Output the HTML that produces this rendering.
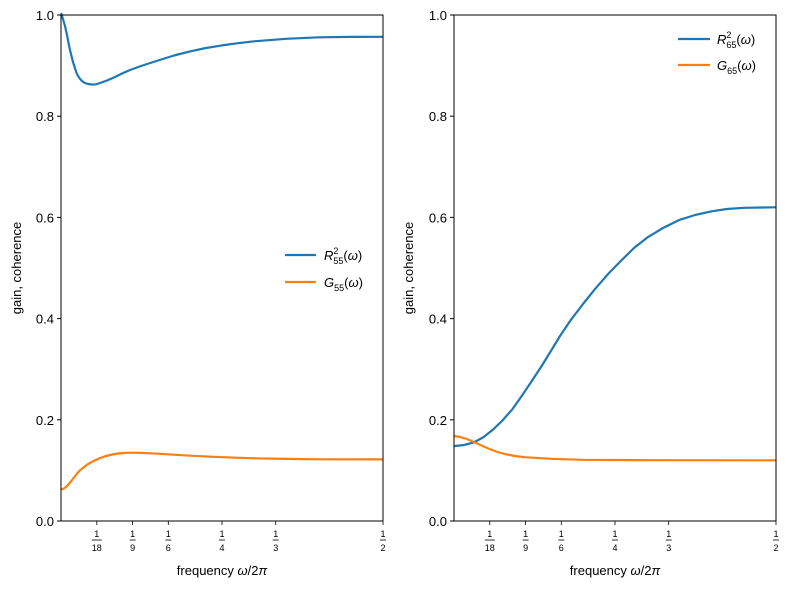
<!DOCTYPE html>
<html><head><meta charset="utf-8"><style>body{margin:0;background:#fff}svg{display:block;font-family:"Liberation Sans","DejaVu Sans",sans-serif}</style></head><body>
<svg width="790" height="589" viewBox="0 0 790 589" xmlns="http://www.w3.org/2000/svg">
<defs>
<g id="yt" font-size="13" fill="#000" text-anchor="end">
<line x1="-4" y1="521" x2="0" y2="521" stroke="#000"/><text x="-7" y="526">0.0</text>
<line x1="-4" y1="419.8" x2="0" y2="419.8" stroke="#000"/><text x="-7" y="424.8">0.2</text>
<line x1="-4" y1="318.6" x2="0" y2="318.6" stroke="#000"/><text x="-7" y="323.6">0.4</text>
<line x1="-4" y1="217.4" x2="0" y2="217.4" stroke="#000"/><text x="-7" y="222.4">0.6</text>
<line x1="-4" y1="116.2" x2="0" y2="116.2" stroke="#000"/><text x="-7" y="121.2">0.8</text>
<line x1="-4" y1="15" x2="0" y2="15" stroke="#000"/><text x="-7" y="20">1.0</text>
</g>
<g id="xt" font-size="9" fill="#000" text-anchor="middle" stroke-width="0.8">
<g transform="translate(35.8,0)"><line y1="521" y2="525" stroke="#000"/><text y="537">1</text><line x1="-5" x2="5" y1="540" y2="540" stroke="#000"/><text y="551">18</text></g>
<g transform="translate(71.6,0)"><line y1="521" y2="525" stroke="#000"/><text y="537">1</text><line x1="-3" x2="3" y1="540" y2="540" stroke="#000"/><text y="551">9</text></g>
<g transform="translate(107.3,0)"><line y1="521" y2="525" stroke="#000"/><text y="537">1</text><line x1="-3" x2="3" y1="540" y2="540" stroke="#000"/><text y="551">6</text></g>
<g transform="translate(161,0)"><line y1="521" y2="525" stroke="#000"/><text y="537">1</text><line x1="-3" x2="3" y1="540" y2="540" stroke="#000"/><text y="551">4</text></g>
<g transform="translate(214.7,0)"><line y1="521" y2="525" stroke="#000"/><text y="537">1</text><line x1="-3" x2="3" y1="540" y2="540" stroke="#000"/><text y="551">3</text></g>
<g transform="translate(322,0)"><line y1="521" y2="525" stroke="#000"/><text y="537">1</text><line x1="-3" x2="3" y1="540" y2="540" stroke="#000"/><text y="551">2</text></g>
</g>
</defs>
<!-- left -->
<g transform="translate(61,0)"><use href="#yt"/><use href="#xt"/></g>
<polyline fill="none" stroke="#1f77b4" stroke-width="2.2" stroke-linejoin="round" points="61,13 63,19 65,26 67,35 68.5,43 70,50 71.5,56 73,62 75,68.5 77,74 79,77.5 81,80 83,81.8 85,83 88,84 92,84.5 96,84.3 100,83 107,80.5 115,77 122,73.5 130,70 141,66 158,60.5 174,55.5 190,51.4 206,48 222,45.4 238,43.2 254,41.3 286,38.8 319,37.3 351,36.9 383,36.8"/>
<polyline fill="none" stroke="#ff7f0e" stroke-width="2.2" stroke-linejoin="round" points="61,489.6 64,488.5 67,486 70.5,482 74,477.5 77,473.5 80,470.4 84,467 88,464 93,461.3 100,458 106,456 112,454.5 118,453.5 125,452.9 132,452.7 140,452.9 158,453.7 190,455.7 222,457.2 254,458.3 286,458.9 319,459.3 383,459.4"/>
<rect x="61" y="15" width="322" height="506" fill="none" stroke="#000" stroke-width="1"/>
<text x="222" y="575" font-size="13" text-anchor="middle">frequency <tspan font-style="italic">ω</tspan>/2<tspan font-style="italic">π</tspan></text>
<text transform="translate(21,268) rotate(-90)" font-size="13" text-anchor="middle">gain, coherence</text>
<line x1="285" y1="255" x2="316" y2="255" stroke="#1f77b4" stroke-width="2.2"/>
<text x="324" y="260" font-size="13"><tspan font-style="italic">R</tspan><tspan font-size="9" dy="-6">2</tspan><tspan font-size="9" dx="-5" dy="10">55</tspan><tspan dy="-4">(<tspan font-style="italic">ω</tspan>)</tspan></text>
<line x1="285" y1="282" x2="316" y2="282" stroke="#ff7f0e" stroke-width="2.2"/>
<text x="324" y="287" font-size="13"><tspan font-style="italic">G</tspan><tspan font-size="9" dy="4">55</tspan><tspan dy="-4">(<tspan font-style="italic">ω</tspan>)</tspan></text>
<!-- right -->
<g transform="translate(454,0)"><use href="#yt"/><use href="#xt"/></g>
<polyline fill="none" stroke="#1f77b4" stroke-width="2.2" stroke-linejoin="round" points="454,446.1 464,445 473.3,442.6 483,437.5 492.6,429.9 502,421 512,409.7 521,397 531.3,381.8 541,367 550.6,351.5 560,336 570,321.1 583,304 595.7,288.2 609,273 621.4,260.4 634,248 647.2,237.6 663,228 679.4,219.9 695,215 711.6,211.3 727,209 743.8,207.8 776,207.3"/>
<polyline fill="none" stroke="#ff7f0e" stroke-width="2.2" stroke-linejoin="round" points="454,436 460,437 466.9,439 476,443 486.2,447.6 496,451.5 505.5,454.2 515,456 524.8,457.2 550.6,458.8 583,459.8 647,460.2 776,460.3"/>
<rect x="454" y="15" width="322" height="506" fill="none" stroke="#000" stroke-width="1"/>
<text x="615" y="575" font-size="13" text-anchor="middle">frequency <tspan font-style="italic">ω</tspan>/2<tspan font-style="italic">π</tspan></text>
<text transform="translate(413,268) rotate(-90)" font-size="13" text-anchor="middle">gain, coherence</text>
<line x1="678" y1="39" x2="710" y2="39" stroke="#1f77b4" stroke-width="2.2"/>
<text x="717" y="44" font-size="13"><tspan font-style="italic">R</tspan><tspan font-size="9" dy="-6">2</tspan><tspan font-size="9" dx="-5" dy="10">65</tspan><tspan dy="-4">(<tspan font-style="italic">ω</tspan>)</tspan></text>
<line x1="678" y1="65" x2="710" y2="65" stroke="#ff7f0e" stroke-width="2.2"/>
<text x="717" y="70" font-size="13"><tspan font-style="italic">G</tspan><tspan font-size="9" dy="4">65</tspan><tspan dy="-4">(<tspan font-style="italic">ω</tspan>)</tspan></text>
</svg>
</body></html>
